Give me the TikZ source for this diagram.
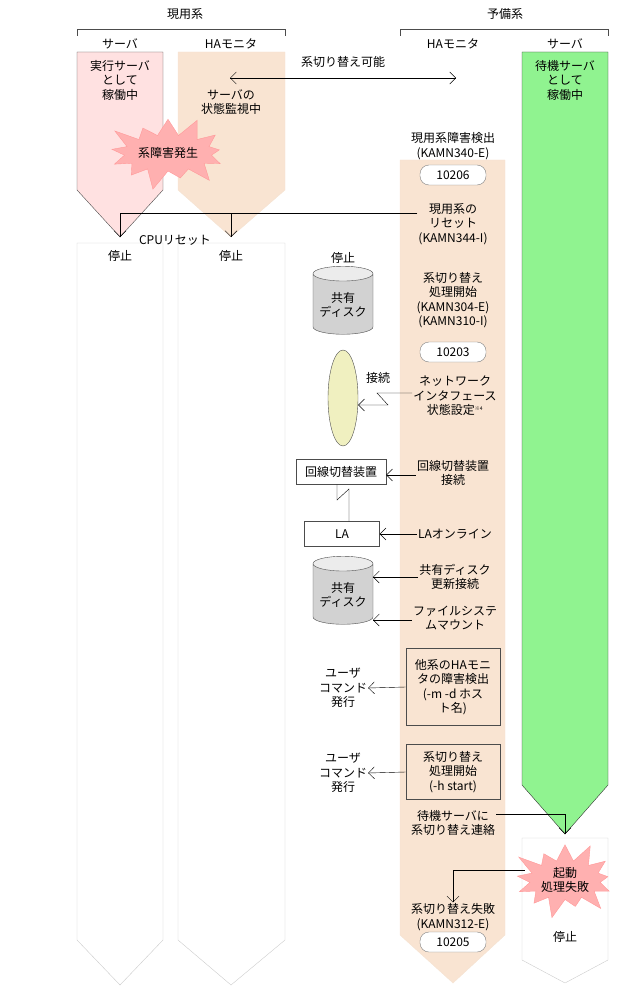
\documentclass[tikz,border=0pt]{standalone}
\usepackage{fontspec}
\setmainfont{Noto Sans CJK JP}
\usetikzlibrary{shapes.symbols,shapes.geometric,arrows.meta}
\definecolor{srvpink}{HTML}{FFE1E1}
\definecolor{habeige}{HTML}{F9E4D2}
\definecolor{hagreen}{HTML}{90F390}
\definecolor{burst}{HTML}{FFB0B0}
\definecolor{ellip}{HTML}{F0F0C0}
\begin{document}
\begin{tikzpicture}[x=1pt,y=-1pt,font=\fontsize{12}{14.5}\selectfont,
  txt/.style={align=center,inner sep=1pt},
  idbox/.style={draw=gray,rounded corners=9pt,minimum width=66pt,minimum height=20pt,fill=white,inner sep=0pt},
  cmdbox/.style={draw=black!70,thick,align=center,inner sep=2pt,fill=habeige},
  plainbox/.style={draw=black!70,fill=white,inner sep=0pt},
  disk/.style={cylinder,shape border rotate=90,draw=black!70,aspect=0.3,minimum width=60pt,minimum height=68pt,
     cylinder uses custom fill,cylinder body fill=gray!35,cylinder end fill=white!85!gray,align=center,inner sep=1pt},
  arr/.style={-{Straight Barb[length=6pt,width=12pt]},black},
  ln/.style={black},
  star/.style={starburst,starburst points=13,starburst point height=22pt,minimum width=105pt,minimum height=80pt,fill=burst,draw=red!40,align=center,inner sep=1pt}]
\useasboundingbox (0,0) rectangle (625,987);
% brackets
\node[txt] (gen) at (185,14) {現用系};
\node[txt] (yobi) at (505,14) {予備系};
\draw[black!70] (77,36)--(77,29)--(285,29)--(285,36);
\draw[black!70] (400,36)--(400,29)--(608,29)--(608,36);
\node[txt] at (120,44) {サーバ};
\node[txt] at (231,44) {HAモニタ};
\node[txt] at (453,44) {HAモニタ};
\node[txt] at (565,44) {サーバ};
% stopped columns
\draw[gray!40,fill=white] (77,243)--(163,243)--(163,940)--(120,985)--(77,940)--cycle;
\draw[gray!40,fill=white] (178,243)--(285,243)--(285,940)--(231,985)--(178,940)--cycle;
% active columns
\draw[black!70,fill=srvpink] (77,52)--(163,52)--(163,190)--(120,237)--(77,190)--cycle;
\draw[habeige!80!brown!60,fill=habeige] (178,52)--(285,52)--(285,190)--(231,237)--(178,190)--cycle;
% standby
\draw[habeige!80!brown!60,fill=habeige] (400,160)--(505,160)--(505,935)--(453,983)--(400,935)--cycle;
\draw[gray!40,fill=white] (522,838)--(608,838)--(608,960)--(565,983)--(522,960)--cycle;
\draw[black!80,fill=hagreen] (522,52)--(608,52)--(608,785)--(565,834)--(522,785)--cycle;
% texts top
\node[txt] at (120,80) {実行サーバ\\として\\稼働中};
\node[txt] at (231,102) {サーバの\\状態監視中};
\node[txt] at (565,80) {待機サーバ\\として\\稼働中};
\node[txt] (swok) at (343,62) {系切り替え可能};
\coordinate (la) at (230,78); \coordinate (ra) at (456,78);
\draw[{Straight Barb[length=6pt,width=12pt]}-{Straight Barb[length=6pt,width=12pt]},black] (la)--(ra);
\node[star] (fail1) at (168,153) {系障害発生};
\node[txt] (det) at (453,146) {現用系障害検出\\(KAMN340-E)};
\node[idbox] (id1) at (453,175) {10206};
\node[txt] (reset) at (453,224) {現用系の\\リセット\\(KAMN344-I)};
\coordinate (tip1) at (120,237); \coordinate (tip2) at (231,237);
\draw[ln] (reset.west|-0,213) -- (120,213);
\draw[arr] (120,213)--(tip1);
\draw[arr] (231,213)--(tip2);
\node[txt] at (175,240) {CPUリセット};
\node[txt] at (120,256) {停止};
\node[txt] at (231,256) {停止};
\node[txt] at (343,258) {停止};
% middle
\node[disk] (d1) at (343,305) {共有\\ディスク};
\node[txt] at (453,300) {系切り替え\\処理開始\\(KAMN304-E)\\(KAMN310-I)};
\node[idbox] (id2) at (453,352) {10203};
\node[ellipse,draw=black!70,fill=ellip,minimum width=30pt,minimum height=96pt,inner sep=0pt] (el) at (343,398) {};
\node[txt] at (378,378) {接続};
\node[txt] (net) at (455,396) {ネットワーク\\インタフェース\\状態設定\textsuperscript{\tiny ※4}};
\draw[arr] (net.west|-0,393) -- (377,393) -- (388,405) -- (el.east|-0,405);
\node[plainbox,minimum width=90pt,minimum height=25pt] (sw) at (341,472) {回線切替装置};
\node[txt] (swc) at (453,473) {回線切替装置\\接続};
\draw[arr] (swc.west|-0,475) -- (sw.east|-0,475);
\node[plainbox,minimum width=75pt,minimum height=25pt] (lab) at (342,534) {LA};
\draw[ln] (sw.south-|337,0) -- (337,500) -- (349,489) -- (lab.north-|349,0);
\node[txt] (lao) at (455,534) {LAオンライン};
\draw[arr] (lao.west) -- (lab.east);
\node[disk] (d2) at (343,595) {共有\\ディスク};
\node[txt] (upd) at (455,577) {共有ディスク\\更新接続};
\draw[arr] (upd.west|-0,577) -- (373,577);
\node[txt] (fsm) at (455,618) {ファイルシステ\\ムマウント};
\draw[arr] (fsm.west|-0,620) -- (373,620);
\node[cmdbox,minimum width=94pt,minimum height=77pt] (cb1) at (453,687) {他系のHAモニ\\タの障害検出\\(-m -d ホス\\ト名)};
\node[txt] (u1) at (343,688) {ユーザ\\コマンド\\発行};
\draw[arr] (cb1.west) -- (u1.east);
\node[cmdbox,minimum width=94pt,minimum height=55pt] (cb2) at (453,772) {系切り替え\\処理開始\\(-h start)};
\node[txt] (u2) at (343,773) {ユーザ\\コマンド\\発行};
\draw[arr] (cb2.west) -- (u2.east);
\node[txt] (notify) at (453,823) {待機サーバに\\系切り替え連絡};
\coordinate (gtip) at (565,834);
\draw[ln] (notify.east|-0,814) -- (565,814);
\draw[arr] (565,814) -- (gtip);
\node[star] (fail2) at (565,880) {起動\\処理失敗};
\node[txt] (swf) at (453,917) {系切り替え失敗\\(KAMN312-E)};
\draw[ln] (fail2.west|-0,870) -- (453,870);
\draw[arr] (453,870) -- (swf.north);
\node[idbox] (id3) at (453,942) {10205};
\node[txt] at (565,937) {停止};
\end{tikzpicture}
\end{document}
